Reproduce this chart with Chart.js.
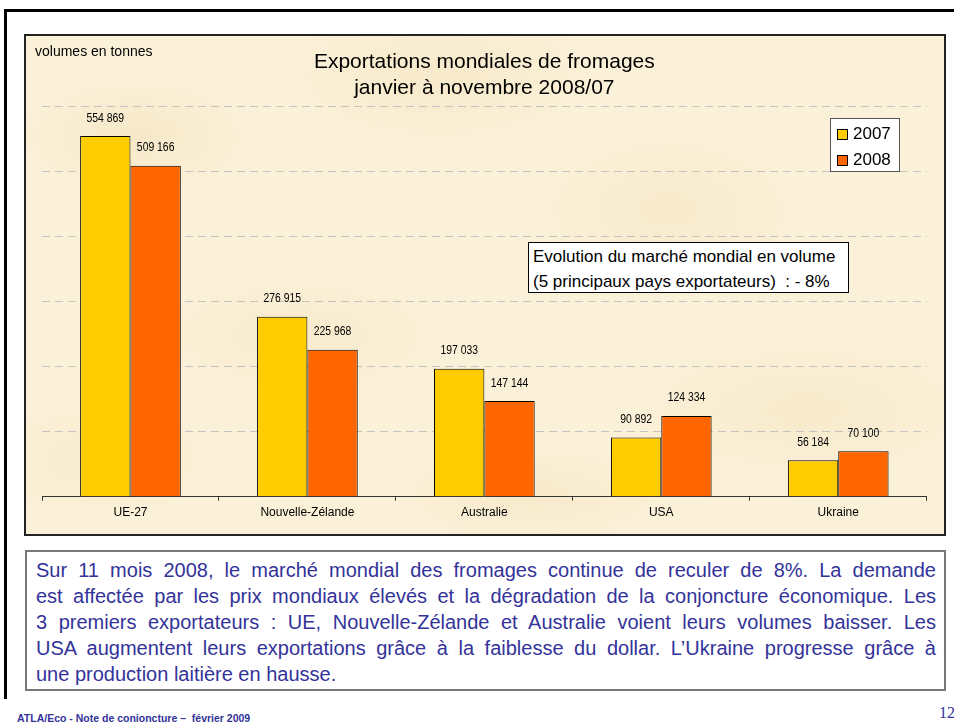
<!DOCTYPE html>
<html><head><meta charset="utf-8">
<script src="https://cdn.jsdelivr.net/npm/chart.js@4.4.0/dist/chart.umd.min.js"></script>
<style>
html,body{margin:0;padding:0;background:#fff;width:954px;height:722px;overflow:hidden;position:relative;font-family:"Liberation Sans",Arial,sans-serif;}
#frameTop{position:absolute;left:4px;top:9px;width:950px;height:3px;background:#000;}
#frameLeft{position:absolute;left:4px;top:9px;width:3px;height:690px;background:#000;}
#chartBox{position:absolute;left:24px;top:34px;width:922px;height:502px;box-sizing:border-box;border:2px solid #222;
  background-color:#FBF1D8;
  background-image:
    radial-gradient(ellipse 120px 60px at 12% 20%, rgba(238,214,170,0.35), rgba(238,214,170,0) 100%),
    radial-gradient(ellipse 160px 70px at 45% 8%, rgba(238,214,170,0.30), rgba(238,214,170,0) 100%),
    radial-gradient(ellipse 140px 80px at 70% 35%, rgba(238,214,170,0.28), rgba(238,214,170,0) 100%),
    radial-gradient(ellipse 150px 60px at 30% 60%, rgba(238,214,170,0.25), rgba(238,214,170,0) 100%),
    radial-gradient(ellipse 180px 70px at 85% 75%, rgba(238,214,170,0.28), rgba(238,214,170,0) 100%),
    radial-gradient(ellipse 140px 50px at 55% 92%, rgba(238,214,170,0.30), rgba(238,214,170,0) 100%),
    radial-gradient(ellipse 120px 60px at 8% 85%, rgba(238,214,170,0.25), rgba(238,214,170,0) 100%);}
#wrap{position:absolute;left:0;top:0;width:918px;height:498px;}
#unit{position:absolute;left:9px;top:8px;font-size:14px;line-height:14px;color:#000;white-space:nowrap;}
#legend{position:absolute;left:804px;top:82px;width:70px;height:54px;box-sizing:border-box;border:1px solid #555;background:#fff;}
.li{position:absolute;left:6px;height:26px;font-size:17px;line-height:26px;white-space:nowrap;}
.sw{display:inline-block;width:9px;height:9px;border:1px solid #000;margin-right:5px;vertical-align:-1px;}
#note{position:absolute;left:502px;top:206px;width:321px;height:51px;box-sizing:border-box;border:1px solid #000;background:#fff;font-size:17px;line-height:25px;padding:1px 0 0 4px;white-space:nowrap;}
#textBox{position:absolute;left:25px;top:550px;width:921px;height:141px;box-sizing:border-box;border:2px solid #777;background:#fff;padding:5px 8px 0 9px;color:#333399;font-size:20px;line-height:26px;}
.jl{text-align:justify;text-align-last:justify;white-space:nowrap;}
#footer{position:absolute;left:17px;top:711px;font-size:10.5px;font-weight:bold;color:#333399;white-space:nowrap;line-height:14px;}
#page{position:absolute;left:939px;top:704px;font-family:"Liberation Serif","Times New Roman",serif;font-size:16px;color:#333399;line-height:18px;}
</style></head>
<body>
<div id="frameTop"></div><div id="frameLeft"></div>
<div id="chartBox">
  <div id="wrap"><canvas id="c" width="918" height="498"></canvas></div>
  <div id="unit">volumes en tonnes</div>
  <div id="legend"></div>
  <div id="note">Evolution du marché mondial en volume<br>(5 principaux pays exportateurs)&nbsp; : - 8%</div>
</div>
<div id="textBox">
  <div class="jl">Sur 11 mois 2008, le marché mondial des fromages continue de reculer de 8%. La demande</div>
  <div class="jl">est affectée par les prix mondiaux élevés et la dégradation de la conjoncture économique. Les</div>
  <div class="jl">3 premiers exportateurs : UE, Nouvelle-Zélande et Australie voient leurs volumes baisser. Les</div>
  <div class="jl">USA augmentent leurs exportations grâce à la faiblesse du dollar. L’Ukraine progresse grâce à</div>
  <div>une production laitière en hausse.</div>
</div>
<div id="footer">ATLA/Eco - Note de conjoncture –&nbsp; février 2009</div>
<div id="page">12</div>
<script>
const categories = ["UE-27", "Nouvelle-Zélande", "Australie", "USA", "Ukraine"];
const seriesNames = ["2007", "2008"];
const values2007 = [554869, 276915, 197033, 90892, 56184];
const values2008 = [509166, 225968, 147144, 124334, 70100];
const titleLines = ["Exportations mondiales de fromages", "janvier à novembre 2008/07"];
const yMax = 600000;
const yStep = 100000;

const SANS = '"Liberation Sans", Arial, sans-serif';

function fmt(v){ return String(v).replace(/\B(?=(\d{3})+(?!\d))/g,' '); }

const valueLabels = {
  id:'valueLabels',
  afterDatasetsDraw(chart){
    const ctx=chart.ctx;
    chart.data.datasets.forEach((ds,i)=>{
      chart.getDatasetMeta(i).data.forEach((bar,j)=>{
        ctx.save();
        ctx.font = '13px '+SANS; ctx.fillStyle='#000'; ctx.textAlign='center'; ctx.textBaseline='middle';
        ctx.translate(bar.x, bar.y-18);
        ctx.scale(0.8, 1);
        ctx.fillText(fmt(ds.data[j]), 0, 0);
        ctx.restore();
      });
    });
  }
};

const chart = new Chart(document.getElementById('c'), {
  type:'bar',
  data:{
    labels:categories,
    datasets:[
      {label:seriesNames[0], data:values2007, backgroundColor:'#FFCC00', borderColor:'#000', borderWidth:1},
      {label:seriesNames[1], data:values2008, backgroundColor:'#FF6600', borderColor:'#000', borderWidth:1}
    ]
  },
  options:{
    responsive:false, animation:false,
    datasets:{bar:{categoryPercentage:0.569, barPercentage:1.0}},
    layout:{padding:{left:16, right:17.3, top:0, bottom:0}},
    plugins:{
      legend:{display:false},
      tooltip:{enabled:false},
      title:{display:true, text:titleLines, color:'#000', font:{family:SANS, size:21, weight:'normal', lineHeight:1.2}, padding:{top:14, bottom:6.3}}
    },
    scales:{
      x:{
        grid:{display:true, drawOnChartArea:false, drawTicks:true, tickLength:4, color:'#333', offset:true},
        border:{display:true, color:'#333', width:1},
        ticks:{font:{family:SANS, size:12}, color:'#000', padding:5},
        afterFit(s){ s.height = 37.3; }
      },
      y:{
        min:0, max:yMax,
        ticks:{display:false, stepSize:yStep},
        grid:{color:(c)=> c.tick && c.tick.value===0 ? 'rgba(0,0,0,0)' : '#C4C4C4', lineWidth:1, drawTicks:false},
        border:{display:false, dash:[8,5]},
        afterFit(s){ s.width = 0; }
      }
    }
  },
  plugins:[valueLabels]
});

const leg = document.getElementById('legend');
chart.data.datasets.forEach((ds,i)=>{
  const d=document.createElement('div'); d.className='li'; d.style.top=(2+i*26)+'px';
  const sw=document.createElement('span'); sw.className='sw'; sw.style.background=ds.backgroundColor;
  d.appendChild(sw); d.appendChild(document.createTextNode(ds.label)); leg.appendChild(d);
});
</script>
</body></html>
